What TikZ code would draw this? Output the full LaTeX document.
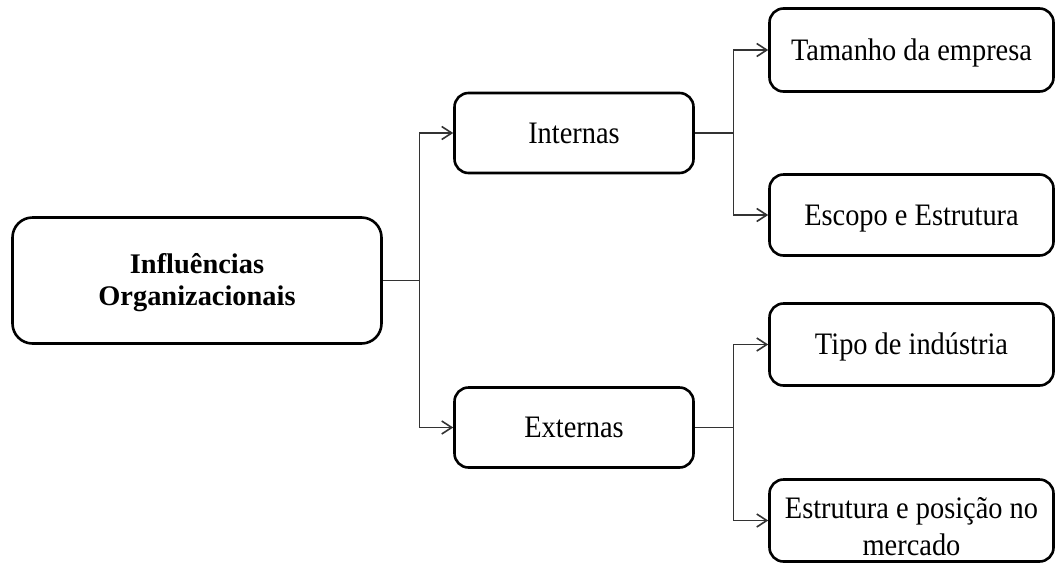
\documentclass[tikz,border=0pt]{standalone}
\usepackage{graphicx}
\usepackage{fontspec}
\setmainfont{Liberation Serif}
\usetikzlibrary{arrows.meta}
% regular labels are set slightly taller than wide
\newcommand{\tallrow}[1]{\scalebox{1}[1.1]{#1}}
\newcommand{\tallrows}[1]{\scalebox{1}[1.1]{\begin{tabular}[t]{@{}c@{}}#1\end{tabular}}}
\begin{document}
\begin{tikzpicture}[x=1pt,y=-1pt,
  box/.style={draw=black, line width=2.6pt, rounded corners=14pt, fill=white,
    inner sep=0pt, align=center, text height=20.7pt, text depth=0pt,
    font=\fontsize{28.4}{34.5}\selectfont},
  rootbox/.style={box, rounded corners=20pt, font=\bfseries\fontsize{28.4}{32}\selectfont},
  midbox/.style={box, minimum width=239pt, minimum height=80pt},
  leafbox/.style={box, minimum width=284pt, minimum height=82pt},
  link/.style={draw=black!80, line width=1.6pt},
  arr/.style={link, -{Straight Barb[length=10pt,width=13pt,line width=1.6pt]}}
]
\useasboundingbox (0,0) rectangle (1056,563);

% root of the tree
\node[rootbox, minimum width=369pt, minimum height=126pt,
      text height=24.5pt, text depth=39.5pt] (root) at (197,280.5)
  {\begin{tabular}[t]{@{}c@{}}Influências\\Organizacionais\end{tabular}};

% second level
\node[midbox] (int) at (574,133) {\tallrow{Internas}};
\node[midbox] (ext) at (574,427.5) {\tallrow{Externas}};

% leaves
\node[leafbox, minimum height=83pt] (tam) at (911.5,50) {\tallrow{Tamanho da empresa}};
\node[leafbox, minimum height=81pt] (esc) at (911.5,215) {\tallrow{Escopo e Estrutura}};
\node[leafbox] (tip) at (911.5,344.5) {\tallrow{Tipo de indústria}};
\node[leafbox, text height=33pt, text depth=38pt] (est) at (911.5,520.5)
  {\tallrows{Estrutura e posição no\\mercado}};

% connectors
\draw[link] (root.east) -- ++(36.5,0) coordinate (j0);
\draw[arr] (j0) |- (int.west);
\draw[arr] (j0) |- (ext.west);

\draw[link] (int.east) -- ++(38.5,0) coordinate (j1);
\draw[arr] (j1) |- (tam.west);
\draw[arr] (j1) |- (esc.west);

\draw[link] (ext.east) -- ++(38.5,0) coordinate (j2);
\draw[arr] (j2) |- (tip.west);
\draw[arr] (j2) |- (est.west);
\end{tikzpicture}
\end{document}
